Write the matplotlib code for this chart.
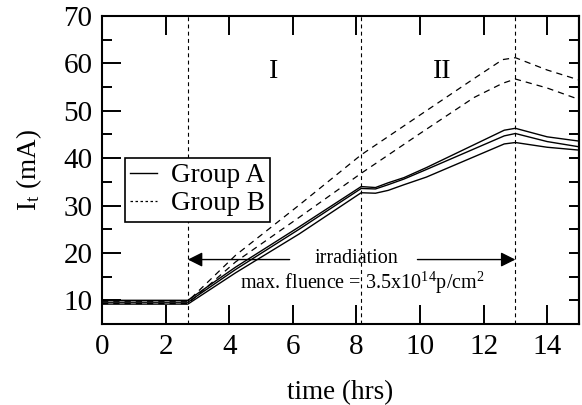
import matplotlib
matplotlib.use("Agg")
import matplotlib.pyplot as plt
from matplotlib.ticker import MultipleLocator, NullFormatter

plt.rcParams["font.family"] = ["Liberation Serif", "DejaVu Serif"]
plt.rcParams["mathtext.fontset"] = "stix"

# Group A (solid) - three samples
time_a = [0, 2.7, 4.2, 6.2, 8.15, 8.6, 9.0, 9.5, 10.2, 12.65, 13.0, 14.0, 15.0]
a1 = [10.0, 10.0, 17.0, 25.5, 34.0, 33.8, 34.8, 35.9, 38.0, 45.9, 46.3, 44.5, 43.6]
a2 = [9.6, 9.6, 16.5, 25.0, 33.6, 33.5, 34.4, 35.6, 37.6, 44.7, 45.2, 43.5, 42.4]
a3 = [9.2, 9.2, 15.8, 24.0, 32.7, 32.6, 33.2, 34.4, 36.0, 43.0, 43.3, 42.3, 41.7]

# Group B (dashed) - two samples
time_b = [0, 2.7, 4.2, 6.2, 8.15, 10.0, 11.7, 12.6, 13.0, 14.0, 15.0]
b1 = [9.8, 9.8, 19.5, 30.1, 40.7, 49.1, 56.8, 60.8, 61.2, 58.6, 56.5]
b2 = [9.3, 9.3, 18.1, 27.5, 36.8, 45.2, 52.8, 55.8, 56.7, 54.8, 52.4]

phase_bounds = [2.7, 8.15, 13.0]
phase_labels = ["I", "II"]
phase_label_x = [5.4, 10.7]

fig = plt.figure(figsize=(5.82, 4.05), dpi=100)
ax = fig.add_axes([0.1753, 0.2, 0.8195, 0.7605])

dash_b = (0, (5, 4))
for y in (a1, a2, a3):
    ax.plot(time_a, y, color="black", lw=1.0)
for y in (b1, b2):
    ax.plot(time_b, y, color="black", lw=0.9, ls=dash_b)

for xb in phase_bounds:
    ax.axvline(xb, color="black", lw=0.8, ls=(0, (3.5, 3)))

for lab, xl in zip(phase_labels, phase_label_x):
    ax.text(xl, 58.2, lab, fontsize=20, ha="center", va="center")

arrow_kw = dict(arrowstyle="-|>", color="black", lw=1.0, mutation_scale=22,
                shrinkA=0, shrinkB=0)
ax.annotate("", xy=(2.7, 18.6), xytext=(5.9, 18.6), arrowprops=arrow_kw)
ax.annotate("", xy=(13.0, 18.6), xytext=(9.92, 18.6), arrowprops=arrow_kw)
ax.text(8.0, 18.8, "irradiation", fontsize=14.5, ha="center", va="center")
ax.text(8.2, 13.8, r"max. fluence = 3.5x10$^{\mathregular{14}}$p/cm$^{\mathregular{2}}$",
        fontsize=14.5, ha="center", va="center")

ax.plot([], [], color="black", lw=1.0, label="Group A")
ax.plot([], [], color="black", lw=0.9, ls=(0, (2, 2)), label="Group B")
leg = ax.legend(loc="upper left", bbox_to_anchor=(0.048, 0.54), fontsize=19.5,
                frameon=True, fancybox=False, framealpha=1, edgecolor="black",
                handlelength=1.0, handletextpad=0.5, borderpad=0.2,
                labelspacing=0.12, borderaxespad=0)
leg.get_frame().set_linewidth(1.2)

ax.set_xlim(0, 15)
ax.set_ylim(5, 70)
ax.xaxis.set_major_locator(MultipleLocator(2))
ax.yaxis.set_major_locator(MultipleLocator(10))
ax.yaxis.set_minor_locator(MultipleLocator(5))
ax.tick_params(which="major", direction="in", length=14, width=1.4,
               top=True, right=False, labelsize=21, pad=7)
ax.tick_params(which="minor", direction="in", length=7, width=1.4,
               left=True, right=False, bottom=False, top=False)
for s in ax.spines.values():
    s.set_linewidth(1.5)

# right side: short ticks every 5 mA, no labels
sec = ax.secondary_yaxis("right")
sec.yaxis.set_major_locator(MultipleLocator(5))
sec.yaxis.set_major_formatter(NullFormatter())
sec.tick_params(direction="in", length=7, width=1.4)
sec.spines["right"].set_linewidth(1.5)

ax.set_xlabel("time (hrs)", fontsize=19.5, labelpad=15)
ax.set_ylabel(r"I$_{\mathregular{t}}$ (mA)", fontsize=19.5, labelpad=14)

fig.savefig("out.png", dpi=100)
